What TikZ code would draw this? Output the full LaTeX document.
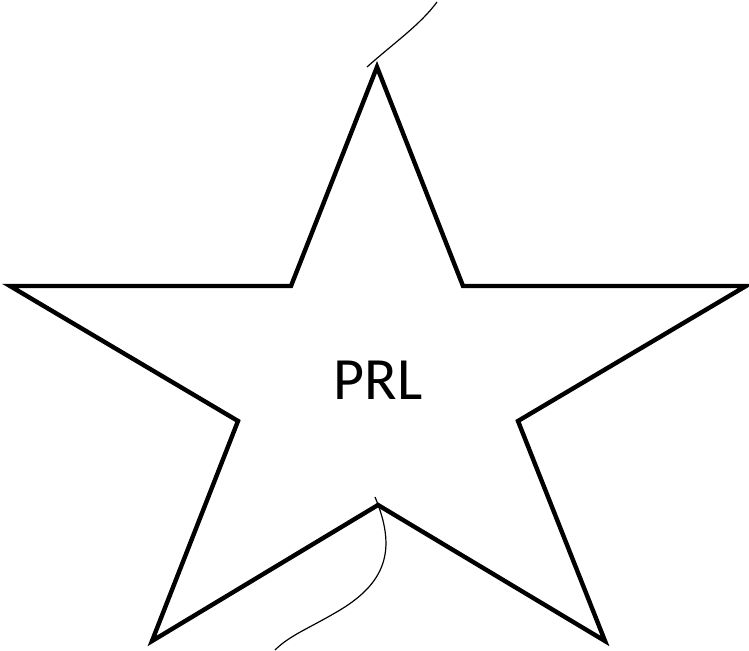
\documentclass[tikz,border=0pt]{standalone}
\usepackage{fontspec}
\setmainfont{Carlito}
\usetikzlibrary{positioning}

\begin{document}
\begin{tikzpicture}[
  x=0.75pt, y=-0.75pt,
  star/.style={draw, line width=3.3pt, line join=miter},
  string/.style={draw, line width=0.9pt},
  label/.style={font=\fontsize{45}{54}\selectfont}
]
  \useasboundingbox (0,0) rectangle (749,650);

  % Star outline
  \coordinate (top) at (377,67);
  \coordinate (bot) at (378,505);
  \draw[star] (top) -- (463,286) -- (746,286) -- (518,421) -- (605,641)
    -- (bot) -- (152,641) -- (238,421) -- (10,286) -- (291,286) -- cycle;

  % Label
  \node[label] (prl) at (378,380) {PRL};

  % Strings
  \coordinate (topend) at (437,2);
  \coordinate (botend) at (275,650);
  \draw[string] (367,67) .. controls (395,42) and (420,25) .. (topend);
  \draw[string] (375,497) .. controls (395,545) and (390,580) .. (340,610)
    .. controls (310,628) and (290,635) .. (botend);
\end{tikzpicture}
\end{document}
